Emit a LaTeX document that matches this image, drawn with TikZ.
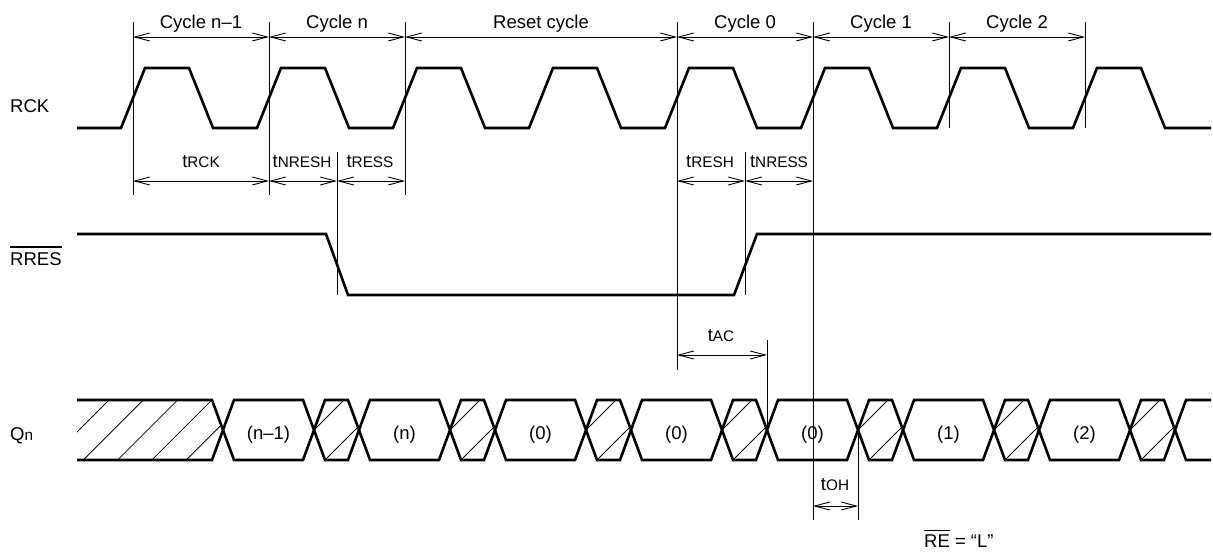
\documentclass[tikz,border=0pt]{standalone}
\usepackage{fontspec}
\setmainfont{Liberation Sans}
\usetikzlibrary{arrows.meta}
\newcommand\tparam[1]{t{\fontsize{15.3}{16}\selectfont #1}}
\newcommand\ovbar[2]{\leavevmode\vbox{\hrule height 1.1pt\kern #1\hbox{#2}}}
\begin{document}
\begin{tikzpicture}[x=1pt,y=-1pt,
  wave/.style={line width=2.6pt, line join=miter},
  guide/.style={line width=0.9pt},
  hatch/.style={line width=0.8pt},
  dim/.style={line width=0.9pt, {Straight Barb[length=15pt,width=8pt]}-{Straight Barb[length=15pt,width=8pt]}},
  lbl/.style={font=\fontsize{18.5}{20}\selectfont, inner sep=0pt, anchor=base},
  sig/.style={font=\fontsize{18.5}{20}\selectfont, inner sep=0pt, anchor=base west},
]
\useasboundingbox (0,0) rectangle (1213,554);

% ---------- signal names ----------
\node[sig] (lrck) at (10,112) {RCK};
\node[sig] (lrres) at (10,265) {\ovbar{4.5pt}{RRES}};
\node[sig] (lqn) at (10,440) {Q{\fontsize{15.3}{16}\selectfont n}};

% ---------- RCK ----------
\draw[wave] (77,128) \foreach \c in {133,269,...,1085} { -- (\c-12,128) -- (\c+12,68) -- (\c+56,68) -- (\c+80,128) } -- (1211,128);

% ---------- RRES ----------
\draw[wave] (77,234) -- (326,234) -- (348,295) -- (734,295) -- (757,234) -- (1211,234);

% ---------- guide lines ----------
\draw[guide] (133,22) -- (133,195);
\draw[guide] (269,22) -- (269,195);
\draw[guide] (405,22) -- (405,195);
\draw[guide] (677,22) -- (677,370);
\draw[guide] (813,22) -- (813,520);
\draw[guide] (949,22) -- (949,128);
\draw[guide] (1085,22) -- (1085,128);
\draw[guide] (337,152) -- (337,295);
\draw[guide] (745,152) -- (745,295);
\draw[guide] (767,340) -- (767,430);
\draw[guide] (858,430) -- (858,520);

% ---------- cycle dimensions ----------
\foreach \n/\x in {g0/133,g1/269,g2/405,g3/677,g4/813,g5/949,g6/1085} { \coordinate (\n) at (\x,37); }
\draw[dim] (g0) -- (g1);
\draw[dim] (g1) -- (g2);
\draw[dim] (g2) -- (g3);
\draw[dim] (g3) -- (g4);
\draw[dim] (g4) -- (g5);
\draw[dim] (g5) -- (g6);
\node[lbl] (c1) at (201,28) {Cycle n\textendash1};
\node[lbl] (c2) at (337,28) {Cycle n};
\node[lbl] (c3) at (541,28) {Reset cycle};
\node[lbl] (c4) at (745,28) {Cycle 0};
\node[lbl] (c5) at (881,28) {Cycle 1};
\node[lbl] (c6) at (1017,28) {Cycle 2};

% ---------- timing dimensions ----------
\foreach \n/\x in {h0/133,h1/269,h2/337,h3/405,h4/677,h5/745,h6/813} { \coordinate (\n) at (\x,181); }
\draw[dim] (h0) -- (h1);
\draw[dim] (h1) -- (h2);
\draw[dim] (h2) -- (h3);
\draw[dim] (h4) -- (h5);
\draw[dim] (h5) -- (h6);
\node[lbl] (t1) at (201,167) {\tparam{RCK}};
\node[lbl] (t2) at (302,167) {\tparam{NRESH}};
\node[lbl] (t3) at (370,167) {\tparam{RESS}};
\node[lbl] (t4) at (710,167) {\tparam{RESH}};
\node[lbl] (t5) at (779,167) {\tparam{NRESS}};

\coordinate (a0) at (677,355);
\coordinate (a1) at (767,355);
\draw[dim] (a0) -- (a1);
\node[lbl] (tac) at (721,341) {\tparam{AC}};

\coordinate (o0) at (813,506);
\coordinate (o1) at (858,506);
\draw[dim] (o0) -- (o1);
\node[lbl] (toh) at (835,490) {\tparam{OH}};

% ---------- Qn hatching ----------
\begin{scope}
  \clip (77,400) -- (212,400) -- (223,430) -- (212,460) -- (77,460) -- cycle;
  \foreach \b in {49,83.3,117.6,151.9,186.2} { \draw[hatch] (\b,460) -- (\b+60,400); }
\end{scope}
\foreach \e in {314,450,586,722,858,994,1130} {
  \begin{scope}
    \clip (\e,430) -- (\e+11,400) -- (\e+34,400) -- (\e+45,430) -- (\e+34,460) -- (\e+11,460) -- cycle;
    \draw[hatch] (\e-30,460) -- (\e+30,400);
    \draw[hatch] (\e+11,460) -- (\e+71,400);
  \end{scope}
}

% ---------- Qn bus ----------
\draw[wave] (77,400) -- (212,400) -- (234,460) -- (303,460) -- (325,400) -- (348,400) -- (370,460) -- (439,460) -- (461,400) -- (484,400) -- (506,460) -- (575,460) -- (597,400) -- (620,400) -- (642,460) -- (711,460) -- (733,400) -- (756,400) -- (778,460) -- (847,460) -- (869,400) -- (892,400) -- (914,460) -- (983,460) -- (1005,400) -- (1028,400) -- (1050,460) -- (1119,460) -- (1141,400) -- (1164,400) -- (1186,460) -- (1211,460);
\draw[wave] (77,460) -- (212,460) -- (234,400) -- (303,400) -- (325,460) -- (348,460) -- (370,400) -- (439,400) -- (461,460) -- (484,460) -- (506,400) -- (575,400) -- (597,460) -- (620,460) -- (642,400) -- (711,400) -- (733,460) -- (756,460) -- (778,400) -- (847,400) -- (869,460) -- (892,460) -- (914,400) -- (983,400) -- (1005,460) -- (1028,460) -- (1050,400) -- (1119,400) -- (1141,460) -- (1164,460) -- (1186,400) -- (1211,400);

\node[lbl] (d1) at (268.5,439) {(n\textendash1)};
\node[lbl] (d2) at (404.5,439) {(n)};
\node[lbl] (d3) at (540.5,439) {(0)};
\node[lbl] (d4) at (676.5,439) {(0)};
\node[lbl] (d5) at (812.5,439) {(0)};
\node[lbl] (d6) at (948.5,439) {(1)};
\node[lbl] (d7) at (1084.5,439) {(2)};

% ---------- note ----------
\node[sig] (note) at (924,547) {\ovbar{3pt}{RE} = “L”};
\end{tikzpicture}
\end{document}
